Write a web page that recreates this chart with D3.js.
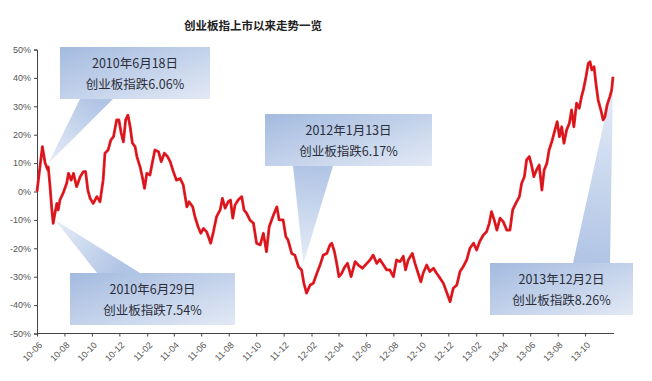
<!DOCTYPE html>
<html><head><meta charset="utf-8">
<script src="https://cdn.jsdelivr.net/npm/d3@7/dist/d3.min.js"></script>
<style>
html,body{margin:0;padding:0;background:#fff;}
svg{display:block;}
</style></head>
<body>
<svg id="chart" width="652" height="381"></svg>
<script>
// ---- data ----
const title = "创业板指上市以来走势一览";
const yTicks = [50,40,30,20,10,0,-10,-20,-30,-40,-50];
const tickLabels = ["10-06","10-08","10-10","10-12","11-02","11-04","11-06","11-08","11-10","11-12","12-02","12-04","12-06","12-08","12-10","12-12","13-02","13-04","13-06","13-08","13-10"];
const dates = [
"2010-06-01","2010-06-13","2010-06-19","2010-06-25","2010-06-26","2010-06-30","2010-07-04","2010-07-07","2010-07-11","2010-07-15","2010-07-18","2010-07-22","2010-07-29",
"2010-08-06","2010-08-10","2010-08-16","2010-08-21","2010-08-28","2010-09-05","2010-09-12","2010-09-17","2010-09-22","2010-09-27","2010-10-04","2010-10-12","2010-10-19","2010-10-26","2010-10-30",
"2010-11-06","2010-11-12","2010-11-18","2010-11-25","2010-11-30","2010-12-05","2010-12-10","2010-12-15","2010-12-20","2010-12-25","2010-12-30",
"2011-01-05","2011-01-09","2011-01-16","2011-01-21","2011-01-26","2011-01-31","2011-02-07","2011-02-12","2011-02-18","2011-02-26","2011-03-04","2011-03-11","2011-03-18","2011-03-24","2011-03-31",
"2011-04-07","2011-04-15","2011-04-22","2011-04-30","2011-05-05","2011-05-13","2011-05-18","2011-05-25","2011-05-31","2011-06-06","2011-06-13","2011-06-22","2011-06-28",
"2011-07-05","2011-07-13","2011-07-18","2011-07-24","2011-07-31","2011-08-05","2011-08-10","2011-08-15","2011-08-22","2011-08-30","2011-09-04","2011-09-10","2011-09-17","2011-09-25",
"2011-10-02","2011-10-10","2011-10-17","2011-10-24","2011-10-30","2011-11-07","2011-11-16","2011-11-21","2011-11-30","2011-12-06","2011-12-11","2011-12-19","2011-12-26",
"2012-01-03","2012-01-10","2012-01-15","2012-01-21","2012-01-29","2012-02-05","2012-02-13","2012-02-20","2012-02-27","2012-03-06","2012-03-13","2012-03-17","2012-03-23","2012-03-28",
"2012-04-02","2012-04-08","2012-04-15","2012-04-21","2012-04-29","2012-05-08","2012-05-15","2012-05-24","2012-06-03","2012-06-10","2012-06-17","2012-06-25",
"2012-07-02","2012-07-10","2012-07-17","2012-07-24","2012-08-01","2012-08-08","2012-08-16","2012-08-23","2012-08-28","2012-09-03","2012-09-12","2012-09-18","2012-09-25",
"2012-10-01","2012-10-06","2012-10-14","2012-10-21","2012-10-29","2012-11-05","2012-11-13","2012-11-20","2012-11-27","2012-12-05","2012-12-12","2012-12-20","2012-12-27",
"2013-01-03","2013-01-11","2013-01-18","2013-01-26","2013-02-02","2013-02-09","2013-02-17","2013-02-24","2013-03-02","2013-03-07","2013-03-13","2013-03-19","2013-03-26",
"2013-04-02","2013-04-10","2013-04-17","2013-04-23","2013-04-30","2013-05-08","2013-05-13","2013-05-19","2013-05-24","2013-05-30","2013-06-04","2013-06-09","2013-06-15","2013-06-21","2013-06-27",
"2013-07-02","2013-07-08","2013-07-13","2013-07-19","2013-07-26","2013-07-31","2013-08-05","2013-08-10","2013-08-15","2013-08-21","2013-08-27","2013-09-01","2013-09-06","2013-09-12","2013-09-18","2013-09-23","2013-09-27",
"2013-10-03","2013-10-08","2013-10-12","2013-10-16","2013-10-21","2013-10-25","2013-10-30","2013-11-05","2013-11-10","2013-11-14","2013-11-19","2013-11-25","2013-11-29","2013-12-02"
];
const values = [
0,15.8,10.0,7.6,8.7,1.7,-6.5,-11.2,-7.6,-4.2,-6.5,-3.0,-0.6,
2.9,6.4,4.0,6.4,1.7,5.2,7.0,7.0,0.5,-2.4,-4.2,-1.8,-3.6,4.0,13.5,
14.6,18.1,19.3,25.2,25.2,20.6,17.5,25.2,26.9,22.8,17.0,
15.8,12.3,8.7,5.2,1.1,6.4,5.8,9.9,14.6,14.0,10.5,13.5,12.3,10.5,7.0,
4.0,4.6,2.3,-5.4,-3.6,-5.4,-8.9,-12.4,-14.7,-13.0,-14.2,-18.2,-14.2,
-8.9,-6.5,-2.4,-5.9,-3.6,-3.0,-9.4,-4.8,-3.0,-1.8,-6.5,-7.7,-10.0,-11.2,
-18.2,-18.8,-14.7,-21.2,-12.4,-8.9,-5.4,-10.0,-10.0,-15.9,-17.1,-21.8,-22.4,
-26.5,-27.6,-32.3,-35.8,-32.9,-32.3,-28.8,-25.9,-22.4,-21.8,-18.8,-18.2,-21.2,-25.3,
-30.0,-28.8,-26.5,-25.3,-30.0,-24.7,-25.9,-27.0,-25.3,-24.1,-22.4,-25.3,
-23.9,-25.9,-27.6,-27.6,-30.0,-24.1,-24.7,-22.8,-27.6,-24.1,-21.8,-25.3,-28.8,
-31.8,-28.8,-25.9,-28.2,-27.0,-28.8,-30.6,-32.3,-35.3,-38.8,-34.1,-32.9,-28.2,
-26.5,-24.1,-20.0,-18.2,-20.6,-17.5,-15.3,-14.2,-11.2,-7.1,-10.0,-13.6,-9.4,
-10.6,-13.6,-13.6,-6.5,-4.2,-1.8,2.9,5.2,11.1,12.3,9.3,5.2,7.6,9.3,0.5,
7.6,9.9,14.6,17.5,21.7,24.6,19.3,22.8,17.0,21.7,24.0,28.7,22.8,31.1,29.3,33.4,35.7,
40.4,45.1,45.7,42.8,43.9,38.1,32.2,28.7,25.2,26.3,30.5,33.4,35.7,40.4
];
const calloutLines = [
  ["2010年6月18日","创业板指跌6.06%"],
  ["2010年6月29日","创业板指跌7.54%"],
  ["2012年1月13日","创业板指跌6.17%"],
  ["2013年12月2日","创业板指跌8.26%"]
];
const calloutTipDates = ["2010-06-26","2010-07-11","2012-01-14","2013-12-02"];
const calloutTipValues = [9.9,-10.0,-25.3,38.7];

// ---- layout ----
const W = 652, H = 381;
const plot = {left:37, right:613, top:49.5, bottom:333.5};
const boxes = [
  {x0:60,  x1:210, y0:47,  y1:99,  b0:80,  b1:113, side:"bottom"},
  {x0:70,  x1:235, y0:273, y1:325, b0:97,  b1:140, side:"top"},
  {x0:265, x1:432, y0:114, y1:166, b0:293, b1:333, side:"bottom"},
  {x0:490, x1:633, y0:263, y1:315, b0:573, b1:610, side:"top"}
];

const parse = d3.timeParse("%Y-%m-%d");
const parseTick = d3.timeParse("%y-%m");
const data = dates.map((d,i)=>({date:parse(d), value:values[i]}));

const svg = d3.select("#chart");
const x = d3.scaleTime().domain([parse("2010-06-01"), parse("2013-12-02")]).range([plot.left, plot.right]);
const y = d3.scaleLinear().domain([-50,50]).range([plot.bottom, plot.top]);

const defs = svg.append("defs");
const bg = defs.append("linearGradient").attr("id","boxGrad")
  .attr("x1",0).attr("y1",0).attr("x2",1).attr("y2",1);
bg.append("stop").attr("offset","0%").attr("stop-color","#a3badf");
bg.append("stop").attr("offset","100%").attr("stop-color","#e2e9f5");

// title
svg.append("text").attr("x",253).attr("y",30)
  .attr("text-anchor","middle")
  .attr("font-family","'Noto Sans CJK SC', sans-serif")
  .attr("font-size",11.5).attr("font-weight","bold").attr("fill","#222")
  .text(title);

// callouts (behind line)
const cg = svg.append("g");
boxes.forEach((b,i)=>{
  const tx = x(parse(calloutTipDates[i])), ty = y(calloutTipValues[i]);
  const by = b.side==="bottom" ? b.y1 : b.y0;
  const pg = defs.append("linearGradient").attr("id","pg"+i)
    .attr("gradientUnits","userSpaceOnUse")
    .attr("x1",(b.b0+b.b1)/2).attr("y1",by).attr("x2",tx).attr("y2",ty);
  pg.append("stop").attr("offset","0%").attr("stop-color","#b0c4e5");
  pg.append("stop").attr("offset","100%").attr("stop-color","#e6edf7");
  cg.append("path")
    .attr("d",`M${b.b0},${by}L${tx},${ty}L${b.b1},${by}Z`)
    .attr("fill",`url(#pg${i})`);
  cg.append("rect").attr("x",b.x0).attr("y",b.y0)
    .attr("width",b.x1-b.x0).attr("height",b.y1-b.y0)
    .attr("fill","url(#boxGrad)");
  const cx = (b.x0+b.x1)/2;
  calloutLines[i].forEach((t,j)=>{
    cg.append("text").attr("x",cx).attr("y",b.y0+21+j*21)
      .attr("text-anchor","middle")
      .attr("font-family","'Noto Sans CJK SC', sans-serif")
      .attr("font-size",12.5).attr("fill","#2a2d3a")
      .text(t);
  });
});

// axes
const yAxis = d3.axisLeft(y).tickValues(yTicks).tickSize(3).tickFormat(d=>d+"%");
const gy = svg.append("g").attr("transform",`translate(${plot.left},0)`).call(yAxis);
gy.select(".domain").attr("stroke","#444");
gy.selectAll(".tick line").attr("stroke","#444");
gy.selectAll(".tick text").attr("font-family","'Liberation Sans', Arial, sans-serif")
  .attr("font-size",9).attr("fill","#555").attr("x",-6);

const xAxis = d3.axisBottom(x).tickValues(tickLabels.map(parseTick)).tickSize(3)
  .tickFormat(d3.timeFormat("%y-%m"));
const gx = svg.append("g").attr("transform",`translate(0,${plot.bottom})`).call(xAxis);
gx.select(".domain").attr("stroke","#444").attr("d",`M${plot.left},0H${plot.right+1}`);
gx.selectAll(".tick line").attr("stroke","#444");
gx.selectAll(".tick text").attr("font-family","'Liberation Sans', Arial, sans-serif")
  .attr("font-size",9).attr("fill","#555")
  .attr("text-anchor","end").attr("y",0).attr("dy","0.35em")
  .attr("transform","translate(3,10) rotate(-45)");

// line
const line = d3.line().x(d=>x(d.date)).y(d=>y(d.value));
svg.append("path").datum(data).attr("d",line)
  .attr("fill","none").attr("stroke","#ec1c24").attr("stroke-width",2.8)
  .attr("stroke-linejoin","round");
svg.append("path").datum(data).attr("d",line)
  .attr("fill","none").attr("stroke","#a01010").attr("stroke-width",0.8)
  .attr("stroke-opacity",0.6).attr("stroke-linejoin","round");
</script>
</body></html>
